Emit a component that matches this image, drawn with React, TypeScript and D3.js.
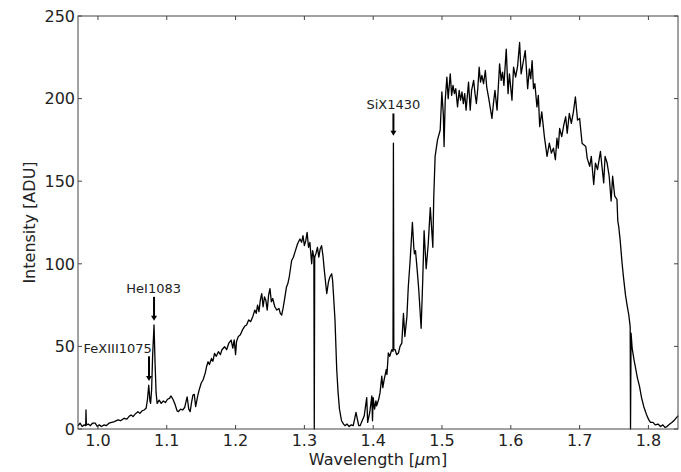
import React from 'react';
import * as d3 from 'd3';

// wavelength in micron and intensity in ADU
const wavelength = [
  0.971, 0.974, 0.977, 0.98, 0.9822, 0.9826, 0.9832, 0.986, 0.989, 0.992, 0.996, 0.999, 1.002, 1.005, 1.009, 1.012,
  1.016, 1.02, 1.024, 1.029, 1.033, 1.038, 1.042, 1.045, 1.048, 1.051, 1.054, 1.058, 1.061, 1.064, 1.067, 1.07,
  1.072, 1.0738, 1.0755, 1.0765, 1.078, 1.0795, 1.0815, 1.083, 1.0845, 1.086, 1.089, 1.092, 1.095, 1.098, 1.101,
  1.104, 1.106, 1.109, 1.112, 1.115, 1.117, 1.12, 1.123, 1.126, 1.1296, 1.132, 1.134, 1.136, 1.138, 1.14, 1.142,
  1.145, 1.147, 1.15, 1.153, 1.156, 1.158, 1.16, 1.162, 1.165, 1.167, 1.1694, 1.172, 1.175, 1.178, 1.18, 1.184,
  1.187, 1.19, 1.1936, 1.196, 1.198, 1.2, 1.2014, 1.204, 1.207, 1.21, 1.2135, 1.216, 1.219, 1.222, 1.225, 1.228,
  1.23, 1.232, 1.234, 1.236, 1.238, 1.24, 1.242, 1.244, 1.246, 1.248, 1.25, 1.252, 1.254, 1.257, 1.26, 1.263,
  1.265, 1.267, 1.269, 1.271, 1.274, 1.276, 1.278, 1.2815, 1.284, 1.287, 1.29, 1.2936, 1.296, 1.298, 1.3, 1.302,
  1.304, 1.306, 1.308, 1.3106, 1.312, 1.3138, 1.3144, 1.315, 1.3167, 1.319, 1.321, 1.323, 1.325, 1.327, 1.329,
  1.3325, 1.335, 1.337, 1.3397, 1.341, 1.3425, 1.3445, 1.346, 1.347, 1.349, 1.351, 1.354, 1.357, 1.359, 1.362,
  1.365, 1.368, 1.371, 1.373, 1.375, 1.377, 1.379, 1.381, 1.384, 1.387, 1.3906, 1.392, 1.395, 1.398, 1.399, 1.4,
  1.402, 1.404, 1.405, 1.408, 1.41, 1.4125, 1.414, 1.416, 1.419, 1.42, 1.422, 1.424, 1.427, 1.4288, 1.4294, 1.43,
  1.432, 1.434, 1.4367, 1.439, 1.4416, 1.444, 1.446, 1.449, 1.451, 1.4537, 1.457, 1.459, 1.46, 1.4615, 1.464,
  1.4663, 1.4697, 1.472, 1.474, 1.477, 1.48, 1.483, 1.4867, 1.488, 1.49, 1.4935, 1.4974, 1.4998, 1.502, 1.503,
  1.5047, 1.5071, 1.509, 1.512, 1.514, 1.516, 1.518, 1.52, 1.5226, 1.525, 1.527, 1.529, 1.531, 1.533, 1.535,
  1.5386, 1.541, 1.543, 1.546, 1.548, 1.55, 1.552, 1.554, 1.556, 1.558, 1.5604, 1.563, 1.565, 1.568, 1.5726,
  1.575, 1.577, 1.58, 1.5837, 1.586, 1.588, 1.59, 1.5934, 1.596, 1.598, 1.6017, 1.604, 1.607, 1.61, 1.6128,
  1.615, 1.618, 1.621, 1.6245, 1.627, 1.629, 1.631, 1.633, 1.635, 1.638, 1.64, 1.642, 1.645, 1.6488, 1.6527,
  1.656, 1.659, 1.662, 1.6648, 1.667, 1.669, 1.671, 1.674, 1.677, 1.6798, 1.682, 1.685, 1.688, 1.691, 1.6939,
  1.697, 1.7, 1.7036, 1.706, 1.709, 1.711, 1.7147, 1.717, 1.7205, 1.723, 1.726, 1.7303, 1.732, 1.735, 1.737,
  1.74, 1.743, 1.7458, 1.748, 1.751, 1.7543, 1.7555, 1.757, 1.759, 1.7618, 1.764, 1.7667, 1.769, 1.7715, 1.7735,
  1.774, 1.7748, 1.7764, 1.779, 1.7813, 1.784, 1.787, 1.79, 1.7933, 1.797, 1.8006, 1.803, 1.8066, 1.81, 1.814,
  1.8176, 1.821, 1.824, 1.827, 1.831, 1.834, 1.838, 1.842, 1.843,
];

const intensity = [
  2, 3.5, 1.5, 2.5, 2, 11.5, 2.5, 3, 2, 3.5, 3.5, 1.5, 2.5, 1.5, 2.5, 2,
  3.5, 4, 4.5, 5.5, 5, 6.5, 6, 7.5, 8.5, 7.5, 9, 10.5, 9.5, 11, 11.5, 12.5,
  18, 26.5, 17, 15.5, 24, 45, 63, 40, 22, 15.5, 17.5, 15.5, 17, 16, 18,
  18.5, 20, 18, 15, 11, 10.5, 12, 11.5, 13, 19.5, 12, 10.5, 16, 20.5, 21, 13.5,
  20, 23.5, 27.7, 30, 34, 38, 40.7, 39, 42.7, 41, 45.8, 44, 46.8, 45, 47.8, 49.8,
  48, 51.8, 53.8, 49, 54, 45, 53, 56, 57, 60, 62.3, 63, 66, 65, 68, 72,
  70, 75, 71, 78, 82, 74, 80, 78, 72, 81, 85, 77, 79, 74, 72, 73,
  70, 69, 73, 78, 86, 88, 92, 102, 104, 108, 112, 115, 113, 117, 111, 114,
  119, 110, 113, 100, 108, 104, 0, 104, 106, 110, 104, 109, 111, 105, 96,
  82, 89, 92, 94, 90, 80, 66, 48, 36, 22, 12, 5, 3, 2, 3,
  1.5, 2.5, 2, 6, 10, 6, 2, 2, 5, 8, 19, 4, 10, 20, 5, 19,
  12, 17, 14, 18, 22, 32, 25, 30, 36, 33, 46, 44, 48, 47, 173, 48,
  48, 45, 46, 50, 52, 70, 56, 68, 86, 102, 125, 110, 106, 108, 96,
  84, 61, 90, 120, 97, 112, 134, 110, 140, 165, 175, 181, 204, 190, 171,
  199, 213, 200, 215, 202, 208, 203, 206, 195, 205, 199, 204, 197, 203, 193,
  210, 193, 205, 211, 203, 197, 206, 219, 210, 214, 209, 217, 207, 200, 188,
  198, 205, 193, 221, 211, 216, 208, 230, 203, 215, 199, 219, 213, 220, 234,
  215, 222, 229, 206, 218, 212, 223, 206, 209, 195, 202, 183, 192, 177, 165,
  173, 167, 170, 163, 176, 170, 182, 177, 184, 189, 179, 191, 185, 192, 201,
  187, 188, 173, 172, 171, 164, 159, 165, 148, 161, 157, 168, 161, 149, 165,
  161, 153, 138, 153, 141, 139, 126, 122, 114, 100, 91, 81, 75, 69, 62,
  0, 58, 49, 42, 37, 31, 26, 19, 13.5, 9, 5.5, 4, 4, 2.5, 3,
  1.5, 2.5, 1, 1.5, 3, 4, 5.5, 7.5, 8,
];

const xTicks = [1.0, 1.1, 1.2, 1.3, 1.4, 1.5, 1.6, 1.7, 1.8];
const yTicks = [0, 50, 100, 150, 200, 250];

// line labels: tip of arrow, start of arrow, text position
const lineLabels = [
  { label: 'FeXIII1075', tipX: 1.0742, tipY: 29, fromY: 44, textX: 1.0287, textY: 46 },
  { label: 'HeI1083', tipX: 1.0815, tipY: 65.5, fromY: 80, textX: 1.081, textY: 82.5 },
  { label: 'SiX1430', tipX: 1.4294, tipY: 177.5, fromY: 191, textX: 1.4294, textY: 194 },
];

const W = 681;
const H = 472;
const margin = { left: 78, right: 3, top: 16, bottom: 43 };
const font = 'DejaVu Sans, sans-serif';

export default function App() {
  const x = d3.scaleLinear().domain([0.971, 1.843]).range([margin.left, W - margin.right]);
  const y = d3.scaleLinear().domain([0, 250]).range([H - margin.bottom, margin.top]);

  const pts = wavelength.map((w, i) => [w, intensity[i]] as [number, number]);
  const line = d3.line<[number, number]>().x(d => x(d[0])).y(d => y(d[1]));

  const x0 = margin.left, x1 = W - margin.right, y0 = margin.top, y1 = H - margin.bottom;

  return (
    <svg width={W} height={H} style={{ position: 'absolute', left: 0, top: 0, background: '#fff' }} fontFamily={font}>
      <g fill="none" stroke="#000" strokeWidth={1.3} strokeLinejoin="round">
        <path d={line(pts) || ''} />
      </g>

      {lineLabels.map(a => {
        const tx = x(a.tipX);
        const ty = y(a.tipY);
        const fy = y(a.fromY);
        return (
          <g key={a.label}>
            <line x1={tx} x2={tx} y1={fy} y2={ty - 4} stroke="#000" strokeWidth={2} />
            <path d={`M${tx - 3},${ty - 5} L${tx + 3},${ty - 5} L${tx},${ty} Z`} fill="#000" />
            <text x={x(a.textX)} y={y(a.textY)} textAnchor="middle" fontSize={13} fill="#222">{a.label}</text>
          </g>
        );
      })}

      <rect x={x0} y={y0} width={x1 - x0} height={y1 - y0} fill="none" stroke="#444" strokeWidth={1} />

      {xTicks.map(t => (
        <g key={'x' + t}>
          <line x1={x(t)} x2={x(t)} y1={y1} y2={y1 - 4} stroke="#444" />
          <line x1={x(t)} x2={x(t)} y1={y0} y2={y0 + 4} stroke="#444" />
          <text x={x(t)} y={y1 + 17} textAnchor="middle" fontSize={16} fill="#222">{t.toFixed(1)}</text>
        </g>
      ))}
      {yTicks.map(t => (
        <g key={'y' + t}>
          <line x1={x0} x2={x0 + 4} y1={y(t)} y2={y(t)} stroke="#444" />
          <line x1={x1} x2={x1 - 4} y1={y(t)} y2={y(t)} stroke="#444" />
          <text x={x0 - 3} y={y(t)} dy="0.36em" textAnchor="end" fontSize={16} fill="#222">{t}</text>
        </g>
      ))}

      <text x={(x0 + x1) / 2} y={H - 7} textAnchor="middle" fontSize={16} fill="#222">
        Wavelength [<tspan fontStyle="italic">μ</tspan>m]
      </text>
      <text transform={`translate(35,${(y0 + y1) / 2}) rotate(-90)`} textAnchor="middle" fontSize={16} fill="#222">
        Intensity [ADU]
      </text>
    </svg>
  );
}
